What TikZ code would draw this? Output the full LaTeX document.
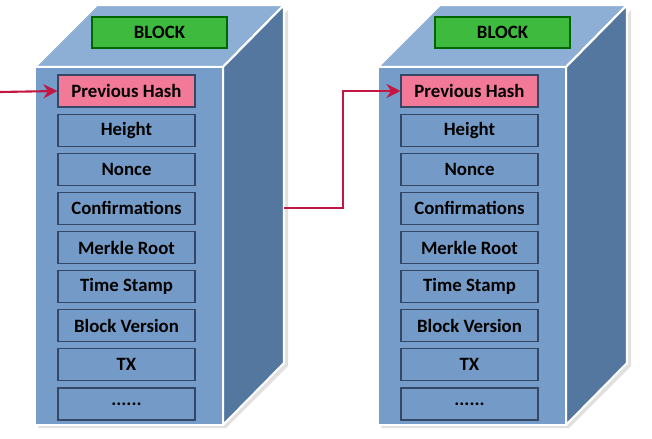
\documentclass[tikz,border=0pt]{standalone}
\usepackage{fontspec}
\setmainfont{Carlito}
\usetikzlibrary{arrows.meta}
\definecolor{frontblue}{RGB}{118,157,201}
\definecolor{topblue}{RGB}{142,175,213}
\definecolor{sideblue}{RGB}{84,119,160}
\definecolor{fieldblue}{RGB}{116,155,199}
\definecolor{fieldline}{RGB}{52,72,102}
\definecolor{hashpink}{RGB}{242,122,152}
\definecolor{blockgreen}{RGB}{62,186,62}
\definecolor{linkred}{RGB}{196,22,66}
\newcommand{\moredots}{......}
\begin{document}
\begin{tikzpicture}[x=0.02cm,y=-0.02cm,
  face/.style={draw=white,line width=1.2pt,line join=round},
  field/.style={draw=fieldline,line width=0.6pt,minimum width=2.74cm,minimum height=0.64cm,inner sep=0pt,font=\fontsize{10.7}{12}\selectfont\bfseries},
  title/.style={field,fill=blockgreen,draw=black!60!green,minimum width=2.7cm,minimum height=0.62cm},
  link/.style={draw=linkred,line width=1.2pt,-{Stealth[length=8pt,width=8pt]}}]
\useasboundingbox (0,0) rectangle (652,439);
% two blocks
\foreach \ox/\b in {0/L,343/R} {
  \begin{scope}[shift={(\ox,0)}]
  \fill[black!12] (38,428) -- (226,428) -- (288,366) -- (288,10) -- (226,72) -- cycle;
  \filldraw[face,fill=topblue] (35,67) -- (97,5) -- (284,5) -- (223,67) -- cycle;
  \filldraw[face,fill=sideblue] (223,67) -- (284,5) -- (284,363) -- (223,425) -- cycle;
  \filldraw[face,fill=frontblue] (35,67) rectangle (223,425);
  \node[title] (\b0) at (159.5,32.5) {BLOCK};
  \foreach \t/\c [count=\i] in {Previous Hash/hashpink,Height/fieldblue,Nonce/fieldblue,Confirmations/fieldblue,Merkle Root/fieldblue,Time Stamp/fieldblue,Block Version/fieldblue,TX/fieldblue,\moredots/fieldblue}
    \node[field,fill=\c] (\b\i) at (126.5,{91+39.125*(\i-1)}) {\t};
  \end{scope}
}
% links
\coordinate (Lin) at (0,92);
\coordinate (Lout) at (284,208);
\draw[link] (Lin) -- (L1.west);
\draw[link] (Lout) -- ++(59,0) |- (R1.west);
\end{tikzpicture}
\end{document}
